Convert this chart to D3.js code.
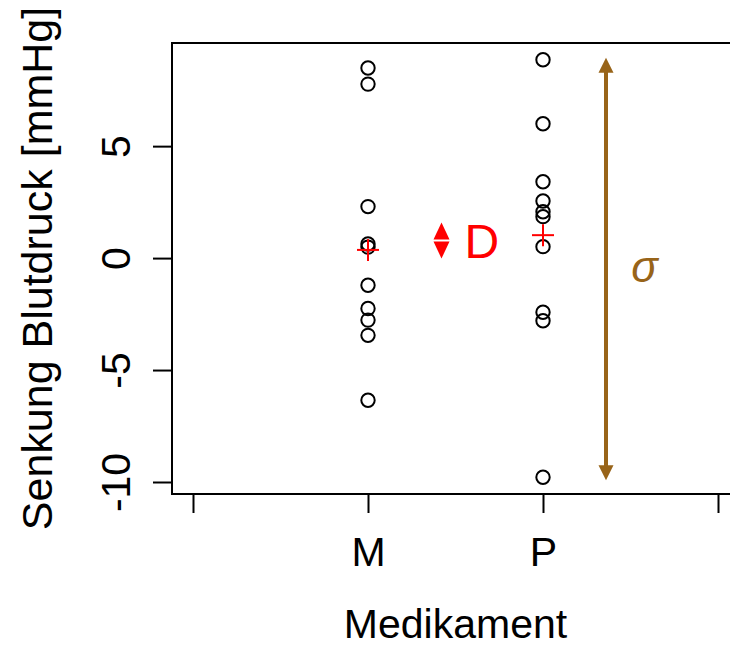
<!DOCTYPE html>
<html>
<head>
<meta charset="utf-8">
<script src="https://cdn.jsdelivr.net/npm/d3@7"></script>
<style>
	body { margin: 0; background: #fff; }
	text { font-family: "Liberation Sans", Arial, sans-serif; }
</style>
</head>
<body>
<svg width="730" height="647"></svg>
<script>
// Werte
var groups = ["M", "P"]
var valuesM = [8.49, 7.77, 2.3, 0.63, 0.49, -1.21, -2.25, -2.77, -3.45, -6.35]
var valuesP = [8.86, 6.0, 3.41, 2.55, 2.07, 1.85, 0.51, -2.42, -2.8, -9.79]
var xTicks = [0, 1, 2, 3]
var yTicks = [-10, -5, 0, 5]
var arrowD_x = 1.42
var labelD_x = 1.65
var arrowSigma_x = 2.36
var labelSigma_x = 2.58

var svg = d3.select("svg"),
	width = +svg.attr("width"),
	height = +svg.attr("height")

const brown = "#986419"
const red = "#ff0000"

var all = valuesM.concat(valuesP)
var ext = d3.extent(all)
var pad = (ext[1] - ext[0]) * 0.04

var x = d3.scaleLinear().domain([-0.12, 3.12]).range([172, 739])
var y = d3.scaleLinear().domain([ext[0] - pad, ext[1] + pad]).range([494, 43])

var meanM = d3.mean(valuesM)
var meanP = d3.mean(valuesP)

// box
svg.append("rect")
	.attr("x", x.range()[0])
	.attr("y", y.range()[1])
	.attr("width", x.range()[1] - x.range()[0])
	.attr("height", y.range()[0] - y.range()[1])
	.attr("fill", "none")
	.attr("stroke", "#000")
	.attr("stroke-width", 2)

// y axis
var yAxis = svg.append("g")
	.attr("transform", "translate(" + x.range()[0] + ",0)")
	.call(d3.axisLeft(y).tickValues(yTicks).tickSize(19).tickFormat(d3.format("d")))
yAxis.select(".domain").remove()
yAxis.selectAll("line").attr("stroke-width", 2)
yAxis.selectAll("text")
	.attr("x", null).attr("dy", null)
	.attr("transform", "translate(-42,0) rotate(-90)")
	.attr("text-anchor", "middle")
	.attr("font-size", 41)
	.attr("font-family", "Liberation Sans, Arial, sans-serif")
	.attr("fill", "#000")
	.text(function (d) { return d < 0 ? "-" + Math.abs(d) : d })

// x axis
var xAxis = svg.append("g")
	.attr("transform", "translate(0," + y.range()[0] + ")")
	.call(d3.axisBottom(x).tickValues(xTicks).tickSize(19)
		.tickFormat(function (d) { return groups[d - 1] || "" }))
xAxis.select(".domain").remove()
xAxis.selectAll("line").attr("stroke-width", 2)
xAxis.selectAll("text")
	.attr("y", 72).attr("dy", null)
	.attr("font-size", 41)
	.attr("font-family", "Liberation Sans, Arial, sans-serif")
	.attr("fill", "#000")

// axis titles
svg.append("text")
	.attr("x", (x.range()[0] + x.range()[1]) / 2)
	.attr("y", 638)
	.attr("text-anchor", "middle")
	.attr("font-size", 41)
	.text("Medikament")

svg.append("text")
	.attr("transform", "translate(52," + (y.range()[0] + y.range()[1]) / 2 + ") rotate(-90)")
	.attr("text-anchor", "middle")
	.attr("font-size", 43)
	.text("Senkung Blutdruck [mmHg]")

// points
var pts = []
valuesM.forEach(function (v) { pts.push({ g: 1, v: v }) })
valuesP.forEach(function (v) { pts.push({ g: 2, v: v }) })

svg.append("g").selectAll("circle").data(pts).enter()
	.append("circle")
	.attr("cx", function (d) { return x(d.g) })
	.attr("cy", function (d) { return y(d.v) })
	.attr("r", 6.7)
	.attr("fill", "none")
	.attr("stroke", "#000")
	.attr("stroke-width", 2)

// means as red crosses
var means = [{ g: 1, v: meanM }, { g: 2, v: meanP }]
var cross = svg.append("g").selectAll("g").data(means).enter()
	.append("g")
	.attr("transform", function (d) { return "translate(" + x(d.g) + "," + y(d.v) + ")" })
cross.append("line").attr("x1", -11).attr("x2", 11).attr("stroke", red).attr("stroke-width", 2)
cross.append("line").attr("y1", -11).attr("y2", 11).attr("stroke", red).attr("stroke-width", 2)

// D arrow between means
var midD = (y(meanM) + y(meanP)) / 2 - 2
var ax = x(arrowD_x)
var dArrow = svg.append("g").attr("fill", red)
dArrow.append("path").attr("d", "M" + (ax - 8) + "," + (midD - 1) + "L" + (ax + 8) + "," + (midD - 1) + "L" + ax + "," + (midD - 18) + "Z")
dArrow.append("path").attr("d", "M" + (ax - 8) + "," + (midD + 1) + "L" + (ax + 8) + "," + (midD + 1) + "L" + ax + "," + (midD + 18) + "Z")

svg.append("text")
	.attr("x", x(labelD_x))
	.attr("y", midD + 17)
	.attr("text-anchor", "middle")
	.attr("font-size", 48)
	.attr("fill", red)
	.text("D")

// sigma arrow over the whole range
var sx = x(arrowSigma_x)
var yTop = y(ext[1]) - 2, yBot = y(ext[0]) + 3
var sg = svg.append("g")
sg.append("line")
	.attr("x1", sx).attr("x2", sx)
	.attr("y1", yTop + 12).attr("y2", yBot - 12)
	.attr("stroke", brown).attr("stroke-width", 4)
sg.append("path").attr("fill", brown)
	.attr("d", "M" + sx + "," + yTop + "L" + (sx + 7.5) + "," + (yTop + 15) + "L" + (sx - 7.5) + "," + (yTop + 15) + "Z")
sg.append("path").attr("fill", brown)
	.attr("d", "M" + sx + "," + yBot + "L" + (sx + 7.5) + "," + (yBot - 15) + "L" + (sx - 7.5) + "," + (yBot - 15) + "Z")

svg.append("text")
	.attr("x", x(labelSigma_x))
	.attr("y", (yTop + yBot) / 2 + 13)
	.attr("text-anchor", "middle")
	.attr("font-size", 44)
	.attr("font-style", "italic")
	.attr("font-family", "Liberation Serif, Times New Roman, serif")
	.attr("fill", brown)
	.text("σ")
</script>
</body>
</html>
